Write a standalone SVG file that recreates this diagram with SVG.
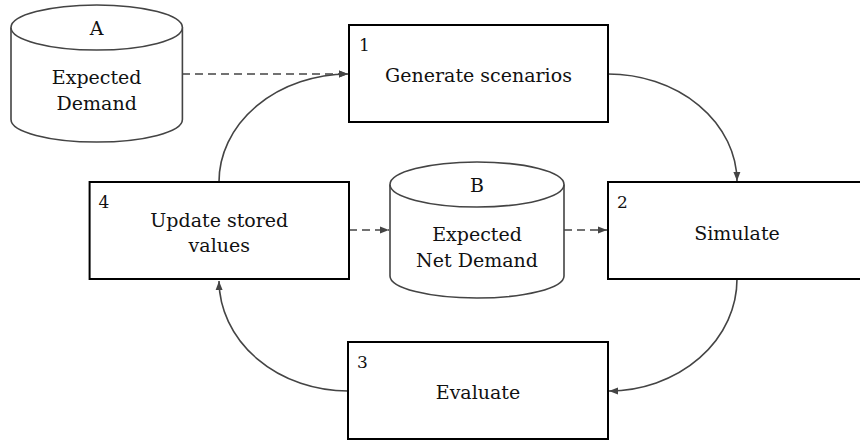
<svg xmlns="http://www.w3.org/2000/svg" width="860" height="441" viewBox="0 0 860 441">
<style>
  .box { fill: #fff; stroke: #000; stroke-width: 2; }
  .cyl { fill: #fff; stroke: #444; stroke-width: 1.6; }
  .t { font-family: "DejaVu Serif", "Liberation Serif", serif; font-size: 19px; fill: #111; text-anchor: middle; }
  .n { font-family: "DejaVu Serif", "Liberation Serif", serif; font-size: 17px; fill: #111; }
  .c { fill: none; stroke: #444; stroke-width: 1.6; marker-end: url(#ah); }
  .d { stroke-dasharray: 8 5; }
</style>
<defs>
  <marker id="ah" markerUnits="userSpaceOnUse" markerWidth="10" markerHeight="8" refX="9" refY="4" orient="auto">
    <path d="M0,0.5 L9,4 L0,7.5 z" fill="#444"/>
  </marker>
</defs>
<rect width="860" height="441" fill="#fff"/>

<g id="connectors">
  <path class="c d" d="M182,74 L348,74"/>
  <path class="c d" d="M349,230 L389,230"/>
  <path class="c d" d="M564,230 L607,230"/>
  <path class="c" d="M219,182 A130,108 0 0 1 348,74"/>
  <path class="c" d="M608,74 A129,108 0 0 1 737,181"/>
  <path class="c" d="M737,279 A129,112 0 0 1 609,391"/>
  <path class="c" d="M348,391 A129,111 0 0 1 219,281"/>
</g>

<g id="nodeA">
  <path class="cyl" d="M11,27.5 L11,119.5 A85.7,22.5 0 0 0 182.4,119.5 L182.4,27.5"/>
  <ellipse class="cyl" cx="96.7" cy="27.5" rx="85.7" ry="22.5"/>
  <text class="t" x="96.7" y="34.5">A</text>
  <text class="t" x="96.7" y="83.5">Expected</text>
  <text class="t" x="96.7" y="110">Demand</text>
</g>

<g id="nodeB">
  <path class="cyl" d="M390,184.5 L390,276 A87,22 0 0 0 564,276 L564,184.5"/>
  <ellipse class="cyl" cx="477" cy="184.5" rx="87" ry="22.5"/>
  <text class="t" x="477" y="192">B</text>
  <text class="t" x="477" y="241">Expected</text>
  <text class="t" x="477" y="267">Net Demand</text>
</g>

<g id="node1">
  <rect class="box" x="349" y="25" width="259" height="97"/>
  <text class="n" x="359" y="51">1</text>
  <text class="t" x="478.5" y="82">Generate scenarios</text>
</g>

<g id="node2">
  <rect class="box" x="608" y="182" width="259" height="97"/>
  <text class="n" x="617" y="208">2</text>
  <text class="t" x="737" y="239.5">Simulate</text>
</g>

<g id="node3">
  <rect class="box" x="348" y="342" width="260" height="97"/>
  <text class="n" x="357" y="368">3</text>
  <text class="t" x="478" y="399">Evaluate</text>
</g>

<g id="node4">
  <rect class="box" x="89.6" y="182" width="259.4" height="97"/>
  <text class="n" x="98.5" y="208">4</text>
  <text class="t" x="219.3" y="226.5">Update stored</text>
  <text class="t" x="219.3" y="252">values</text>
</g>
</svg>
